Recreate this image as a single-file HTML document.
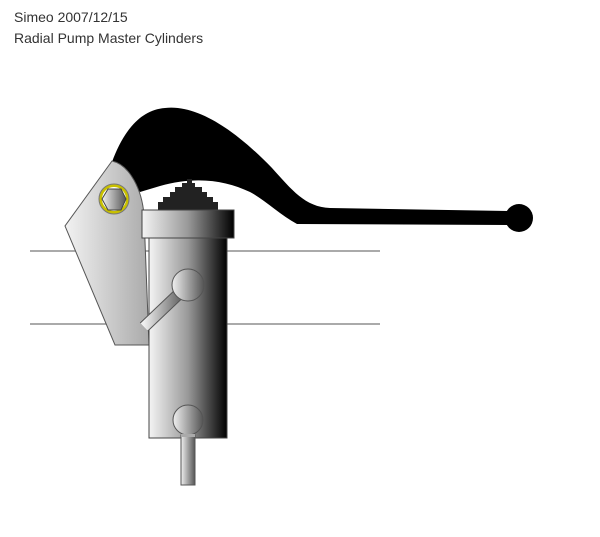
<!DOCTYPE html>
<html><head><style>body{margin:0;background:#fff;width:600px;height:532px;overflow:hidden}</style></head><body>
<svg width="600" height="532" xmlns="http://www.w3.org/2000/svg">
<defs>
<linearGradient id="g" x1="0" x2="1" y1="0" y2="0"><stop offset="0" stop-color="#f4f4f4"/><stop offset="0.5" stop-color="#999"/><stop offset="1" stop-color="#000"/></linearGradient>
<linearGradient id="g2" x1="0" x2="1"><stop offset="0" stop-color="#f2f2f2"/><stop offset="1" stop-color="#aaa"/></linearGradient>
<linearGradient id="g3" x1="0" x2="1"><stop offset="0" stop-color="#f0f0f0"/><stop offset="1" stop-color="#555"/></linearGradient>
</defs>
<text x="14" y="22" font-family="Liberation Sans, sans-serif" font-size="14" fill="#333">Simeo 2007/12/15</text>
<text x="14" y="43" font-family="Liberation Sans, sans-serif" font-size="14" fill="#333">Radial Pump Master Cylinders</text>
<line x1="30" y1="251" x2="380" y2="251" stroke="#777" stroke-width="1.3"/>
<line x1="30" y1="324" x2="380" y2="324" stroke="#777" stroke-width="1.3"/>
<path d="M112,162 C122,135 138,110 165,108 C200,104 240,135 272,168 C292,190 305,207 330,208 L508,211 L508,225 L297,224 C280,215 265,200 250,192 C225,180 195,176 160,186 L140,192 Z" fill="#000"/>
<circle cx="519" cy="218" r="14" fill="#000"/>
<path d="M158,202 h60 v9 h-60z M163,197 h50 v6 h-50z M170,192 h37 v6 h-37z M175,187 h27 v6 h-27z M182,183 h13 v5 h-13z M187,179 h5 v5 h-5z" fill="#222"/>
<path d="M112,161 C130,165 142,190 144,215 L149,345 L115,345 L65,226 Z" fill="url(#g2)" stroke="#555"/>
<circle cx="114" cy="199" r="15" fill="#c8c000" stroke="#777"/>
<circle cx="114" cy="199" r="12" fill="#fff"/>
<polygon points="108,189 121,189 126,199 121,210 108,210 102,199" fill="url(#g3)" stroke="#444"/>
<rect x="149" y="238" width="78" height="200" fill="url(#g)" stroke="#444"/>
<rect x="142" y="210" width="92" height="28" fill="url(#g)" stroke="#444"/>
<line x1="144" y1="327" x2="185" y2="288" stroke="#555" stroke-width="12" stroke-linecap="butt"/>
<line x1="144" y1="327" x2="185" y2="288" stroke="url(#g3)" stroke-width="10"/>
<circle cx="188" cy="285" r="16" fill="url(#g3)" stroke="#555"/>
<rect x="181" y="435" width="14" height="50" fill="url(#g3)" stroke="#555"/>
<circle cx="188" cy="420" r="15" fill="url(#g3)" stroke="#555"/>
<rect x="181" y="434" width="14" height="3" fill="#aaa"/>
</svg>
</body></html>
